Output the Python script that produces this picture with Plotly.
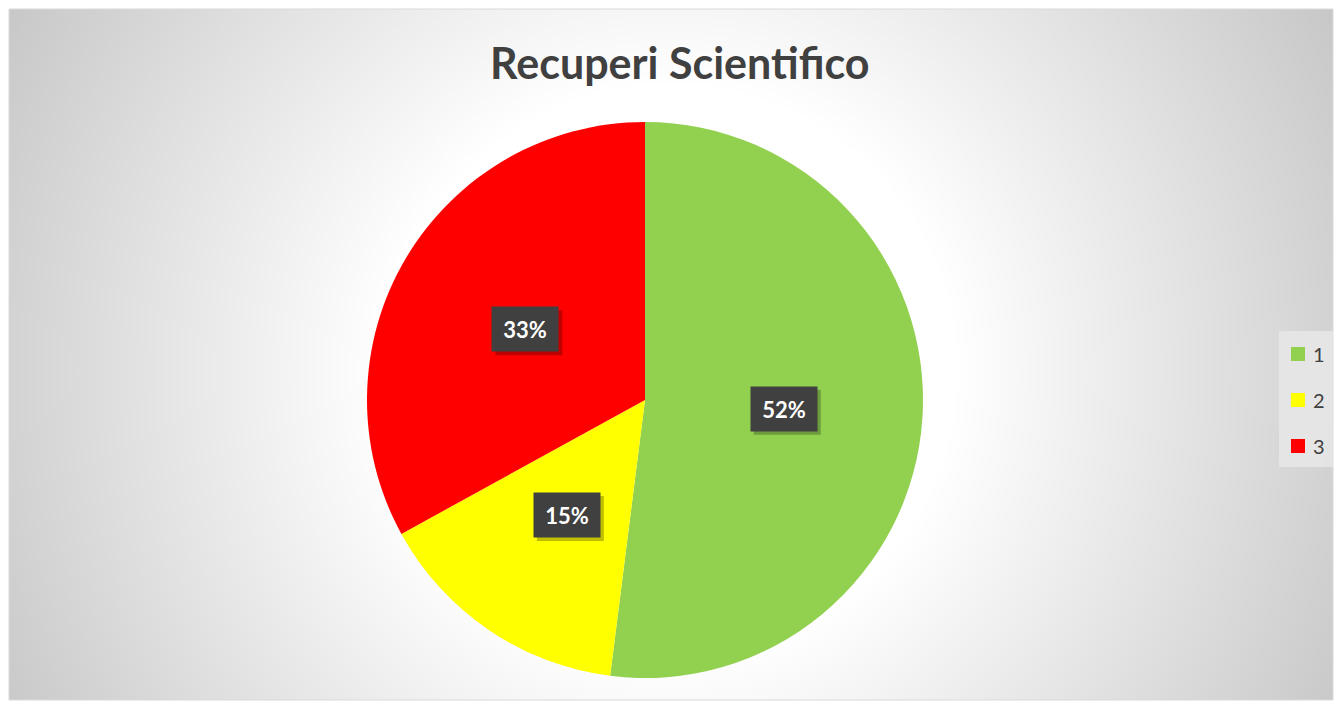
import base64, struct, zlib
import numpy as np
import plotly.graph_objects as go

# ---- data ----
labels = ["1", "2", "3"]
values = [52, 15, 33]
colors = ["#92D050", "#FFFF00", "#FF0000"]
title_text = "Recuperi Scientifico"

W, H = 1335, 703
# chart frame (px)
FX0, FY0, FX1, FY1 = 9, 9, 1333, 700

# ---- radial gradient background as PNG ----
def gradient_png(w, h, scale):
    ys, xs = np.mgrid[0:h, 0:w].astype(float)
    px = FX0 + (xs + 0.5) * scale
    py = FY0 + (ys + 0.5) * scale
    d = np.sqrt((px - 670) ** 2 + (py - 370) ** 2)
    v = 255 - np.clip(d - 290, 0, None) * 0.118
    v = np.clip(v, 190, 255).astype(np.uint8)
    raw = b"".join(b"\x00" + v[i].tobytes() for i in range(h))
    def chunk(t, data):
        c = struct.pack(">I", len(data)) + t + data
        return c + struct.pack(">I", zlib.crc32(t + data) & 0xFFFFFFFF)
    png = b"\x89PNG\r\n\x1a\n" + chunk(b"IHDR", struct.pack(">IIBBBBB", w, h, 8, 0, 0, 0, 0)) \
        + chunk(b"IDAT", zlib.compress(raw, 9)) + chunk(b"IEND", b"")
    return "data:image/png;base64," + base64.b64encode(png).decode()

scale = 4
gw, gh = (FX1 - FX0) // scale, (FY1 - FY0) // scale
bg_src = gradient_png(gw, gh, scale)

def px2x(p):
    return p / W

def py2y(p):
    return 1 - p / H

# pie geometry (px)
PCX, PCY, PR = 645, 400, 278
dom_x = [px2x(PCX - PR), px2x(PCX + PR)]
dom_y = [py2y(PCY + PR), py2y(PCY - PR)]

fig = go.Figure()
fig.add_trace(go.Pie(
    labels=labels, values=values, sort=False, direction="clockwise", rotation=0,
    marker=dict(colors=colors, line=dict(width=0)),
    textinfo="none", hoverinfo="label+percent", showlegend=False,
    domain=dict(x=dom_x, y=dom_y),
))

annotations = []
shapes = []
total = sum(values)
cum = 0
BW, BH = 66, 44
for lab, v in zip(labels, values):
    mid = (cum + v / 2) / total * 2 * np.pi
    cum += v
    lx = PCX + 0.5 * PR * np.sin(mid)
    ly = PCY - 0.5 * PR * np.cos(mid)
    txt = f"{round(v / total * 100)}%"
    # shadow
    shapes.append(dict(type="rect", xref="paper", yref="paper",
                       x0=px2x(lx - BW / 2 + 3), x1=px2x(lx + BW / 2 + 4),
                       y0=py2y(ly + BH / 2 + 4), y1=py2y(ly - BH / 2 + 3),
                       fillcolor="rgba(0,0,0,0.25)", line=dict(width=0), layer="above"))
    annotations.append(dict(
        x=px2x(lx), y=py2y(ly), xref="paper", yref="paper", text=f"<b>{txt}</b>", showarrow=False,
        font=dict(family="Lato", size=22, color="white"),
        bgcolor="#404040", width=BW - 8, height=BH - 8, borderpad=4,
        xanchor="center", yanchor="middle",
    ))

# title
annotations.append(dict(
    x=px2x(680), y=py2y(62), xref="paper", yref="paper", text=f"<b>{title_text}</b>",
    showarrow=False, font=dict(family="Lato", size=43, color="#404040"),
    xanchor="center", yanchor="middle",
))

# legend (manual)
shapes.append(dict(type="rect", xref="paper", yref="paper",
                   x0=px2x(1279), x1=px2x(1333), y0=py2y(467), y1=py2y(331),
                   fillcolor="rgba(232,232,232,0.85)", line=dict(width=0), layer="above"))
for i, (lab, c) in enumerate(zip(labels, colors)):
    yc = 354 + i * 46
    shapes.append(dict(type="rect", xref="paper", yref="paper",
                       x0=px2x(1291), x1=px2x(1305), y0=py2y(yc + 7), y1=py2y(yc - 7),
                       fillcolor=c, line=dict(width=0), layer="above"))
    annotations.append(dict(
        x=px2x(1311), y=py2y(yc), xref="paper", yref="paper", text=lab, showarrow=False,
        font=dict(family="Lato", size=20, color="#404040"), xanchor="left", yanchor="middle",
    ))

# frame border
shapes.append(dict(type="rect", xref="paper", yref="paper",
                   x0=px2x(FX0), x1=px2x(FX1), y0=py2y(FY1), y1=py2y(FY0),
                   line=dict(color="#D9D9D9", width=1), layer="below"))

fig.update_layout(
    width=W, height=H, margin=dict(l=0, r=0, t=0, b=0),
    paper_bgcolor="white", plot_bgcolor="white",
    images=[dict(source=bg_src, xref="paper", yref="paper",
                 x=px2x(FX0), y=py2y(FY0), sizex=(FX1 - FX0) / W, sizey=(FY1 - FY0) / H,
                 xanchor="left", yanchor="top", sizing="stretch", layer="below")],
    shapes=shapes, annotations=annotations,
)
fig.write_html("out.html", config={"displayModeBar": False},
               post_script="document.body.style.margin='0';document.body.style.overflow='hidden';")
